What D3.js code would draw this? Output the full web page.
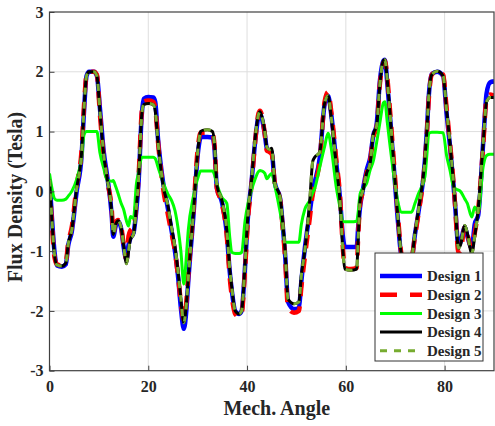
<!DOCTYPE html>
<html>
<head>
<meta charset="utf-8">
<script src="https://cdn.jsdelivr.net/npm/d3@7/dist/d3.min.js"></script>
<style>
  html, body { margin: 0; padding: 0; background: #ffffff; }
  svg { display: block; }
  .tick text { font-family: "Liberation Serif", "Times New Roman", serif; font-weight: bold; font-size: 16px; fill: #262626; }
</style>
</head>
<body>
<svg id="chart" width="495" height="426"></svg>
<script>
// Mechanical angle samples (degrees) shared by all designs
const angles = [
  0, 0.5, 1, 1.5, 2.5, 3.3, 3.8, 4.5, 5.5, 6.5,
  7, 7.5, 8, 9, 9.6, 10.2, 11, 11.6, 12.6, 12.9,
  13.4, 13.9, 14.5, 15, 15.6, 16, 16.4, 17, 17.6, 18,
  18.7, 19.1, 20, 21, 21.4, 22, 23, 24, 24.7, 25.4,
  26, 26.6, 27.2, 27.7, 28.1, 29.1, 30.1, 30.6, 31, 32,
  33, 33.4, 33.9, 34.9, 35.9, 36.5, 36.9, 37.6, 38.4, 38.9,
  39.6, 40.2, 40.9, 41.6, 42.3, 42.6, 43, 43.6, 44, 44.5,
  45, 45.6, 46.7, 47.2, 47.7, 48.3, 49.5, 50.5, 51, 51.7,
  52.7, 53.3, 53.7, 54.7, 55.7, 56.4, 57.1, 58.1, 58.8, 59.4,
  59.8, 61, 62.2, 62.5, 62.9, 63.5, 64.2, 64.9, 65.6, 66.2,
  66.9, 67.6, 67.9, 68.4, 68.9, 69.9, 70.6, 71.3, 72.3, 73.3,
  74, 74.7, 76, 76.4, 76.8, 77.4, 78.5, 79.7, 80.4, 81.1,
  81.7, 82.1, 82.8, 83.2, 84.1, 84.6, 85.5, 86.1, 86.8, 87.8,
  88.5, 89.2, 90
];

// Air-gap flux density (Tesla) per design
const design1 = [
  0.2, -0.45, -1.0, -1.24, -1.26, -1.22, -0.9, -0.68, 0.0, 0.6,
  1.35, 1.93, 2.0, 2.0, 1.93, 1.4, 0.65, 0.3, -0.4, -0.76,
  -0.58, -0.5, -0.62, -0.92, -1.15, -0.9, -0.78, -0.7, -0.3, 0.1,
  1.3, 1.55, 1.58, 1.57, 1.5, 0.85, 0.15, -0.3, -0.65, -1.0,
  -1.4, -1.95, -2.3, -2.0, -1.5, -0.45, 0.68, 0.9, 0.91, 0.91,
  0.9, 0.72, 0.05, -0.18, -0.7, -1.35, -1.65, -2.0, -2.05, -2.0,
  -1.25, -0.4, 0.15, 0.8, 1.25, 1.3, 1.22, 0.95, 0.72, 0.68,
  0.65, 0.15, -0.12, -0.55, -1.05, -1.85, -1.97, -1.95, -1.5, -0.95,
  -0.35, 0.0, 0.15, 0.55, 1.45, 1.6, 1.25, 0.45, -0.1, -0.75,
  -0.93, -0.93, -0.93, -0.6, -0.25, 0.05, 0.35, 0.55, 0.95, 1.1,
  1.85, 2.18, 2.2, 1.8, 1.3, 0.2, -0.55, -1.1, -1.16, -1.14,
  -0.72, -0.35, 0.5, 1.0, 1.6, 1.96, 2.0, 1.93, 1.3, 0.75,
  0.2, -0.2, -0.9, -0.85, -0.6, -0.75, -0.95, -0.55, -0.4, 0.8,
  1.64, 1.82, 1.84
];
const design2 = [
  0.15, -0.55, -1.1, -1.22, -1.24, -1.18, -0.85, -0.6, 0.1, 0.7,
  1.45, 1.95, 2.0, 2.0, 1.95, 1.3, 0.55, 0.2, -0.3, -0.7,
  -0.52, -0.48, -0.58, -0.88, -1.15, -0.75, -0.65, -0.6, -0.2, 0.2,
  1.35, 1.5, 1.52, 1.5, 1.4, 0.8, 0.05, -0.4, -0.7, -1.0,
  -1.4, -1.85, -2.15, -1.85, -1.4, -0.35, 0.78, 0.98, 0.98, 0.98,
  0.96, 0.78, 0.05, -0.2, -0.75, -1.45, -1.75, -2.05, -2.1, -2.05,
  -1.3, -0.45, 0.1, 0.8, 1.3, 1.35, 1.28, 0.95, 0.68, 0.66,
  0.62, 0.15, -0.15, -0.6, -1.1, -1.95, -2.03, -2.0, -1.6, -1.1,
  -0.45, -0.05, 0.1, 0.5, 1.5, 1.66, 1.3, 0.5, -0.05, -0.95,
  -1.28, -1.3, -1.28, -0.75, -0.2, 0.0, 0.3, 0.5, 0.92, 1.05,
  1.8, 2.15, 2.18, 1.9, 1.4, 0.3, -0.45, -1.05, -1.13, -1.1,
  -0.75, -0.38, 0.48, 0.95, 1.55, 1.95, 2.01, 1.95, 1.4, 0.8,
  0.25, -0.2, -1.02, -1.0, -0.6, -0.72, -0.95, -0.7, -0.3, 0.75,
  1.55, 1.62, 1.6
];
const design3 = [
  0.3, 0.05, -0.12, -0.15, -0.15, -0.13, -0.08, 0.0, 0.2, 0.57,
  0.95, 1.0, 1.0, 1.0, 1.0, 0.65, 0.38, 0.2, 0.17, 0.18,
  0.08, -0.04, -0.2, -0.3, -0.5, -0.58, -0.42, -0.45, 0.13, 0.3,
  0.57, 0.57, 0.57, 0.57, 0.55, 0.4, 0.15, -0.05, -0.15, -0.32,
  -0.6, -1.0, -1.55, -1.1, -0.65, -0.1, 0.24, 0.34, 0.34, 0.34,
  0.34, 0.28, 0.12, -0.1, -0.2, -0.77, -1.02, -1.04, -1.04, -1.02,
  -0.49, -0.2, 0.02, 0.2, 0.33, 0.35, 0.34, 0.3, 0.21, 0.26,
  0.3, 0.1, -0.35, -0.6, -0.85, -0.85, -0.85, -0.85, -0.55, -0.3,
  -0.15, -0.02, 0.05, 0.4, 0.75, 0.97, 0.69, 0.05, -0.26, -0.5,
  -0.51, -0.51, -0.5, -0.35, -0.04, 0.05, 0.13, 0.35, 0.52, 0.8,
  1.15, 1.48, 1.5, 1.15, 0.8, 0.15, -0.2, -0.35, -0.35, -0.35,
  -0.2, -0.04, 0.24, 0.6, 0.97, 0.99, 0.99, 0.98, 0.6, 0.35,
  0.1, 0.05, 0.02, 0.0, -0.13, -0.2, -0.43, -0.26, -0.35, 0.41,
  0.6, 0.62, 0.62
];
const design4 = [
  0.2, -0.5, -1.05, -1.23, -1.25, -1.2, -0.88, -0.65, 0.05, 0.65,
  1.4, 1.93, 2.0, 2.0, 1.93, 1.35, 0.6, 0.25, -0.35, -0.72,
  -0.55, -0.49, -0.6, -0.9, -1.21, -1.0, -0.8, -0.72, -0.25, 0.15,
  1.3, 1.45, 1.47, 1.45, 1.35, 0.8, 0.1, -0.25, -0.6, -0.93,
  -1.32, -1.8, -2.2, -1.9, -1.45, -0.4, 0.74, 1.0, 1.02, 1.03,
  1.0, 0.8, 0.1, -0.15, -0.65, -1.3, -1.6, -2.0, -2.05, -2.0,
  -1.21, -0.37, 0.18, 0.85, 1.28, 1.33, 1.25, 1.0, 0.74, 0.7,
  0.72, 0.15, -0.1, -0.5, -0.99, -1.8, -1.88, -1.85, -1.4, -0.99,
  -0.15, 0.5, 0.57, 0.65, 1.47, 1.6, 1.2, 0.41, -0.15, -0.99,
  -1.3, -1.32, -1.3, -0.8, -0.15, 0.02, 0.3, 0.46, 0.97, 1.08,
  1.8, 2.19, 2.2, 1.85, 1.36, 0.24, -0.5, -1.05, -1.12, -1.1,
  -0.7, -0.32, 0.52, 1.0, 1.6, 1.95, 2.01, 1.93, 1.36, 0.8,
  0.24, -0.15, -0.95, -0.9, -0.57, -0.7, -1.04, -0.75, -0.3, 0.8,
  1.5, 1.57, 1.57
];
const design5 = [
  0.2, -0.5, -1.05, -1.23, -1.25, -1.2, -0.88, -0.65, 0.05, 0.65,
  1.4, 1.93, 2.0, 2.0, 1.93, 1.35, 0.6, 0.25, -0.35, -0.72,
  -0.55, -0.49, -0.6, -0.9, -1.21, -1.0, -0.8, -0.72, -0.25, 0.15,
  1.3, 1.45, 1.47, 1.45, 1.35, 0.8, 0.1, -0.25, -0.6, -0.93,
  -1.32, -1.8, -2.2, -1.9, -1.45, -0.4, 0.74, 1.0, 1.02, 1.03,
  1.0, 0.8, 0.1, -0.15, -0.65, -1.3, -1.6, -2.0, -2.05, -2.0,
  -1.21, -0.37, 0.18, 0.85, 1.28, 1.33, 1.25, 1.0, 0.74, 0.7,
  0.72, 0.15, -0.1, -0.5, -0.99, -1.8, -1.88, -1.85, -1.4, -0.99,
  -0.15, 0.5, 0.57, 0.65, 1.47, 1.6, 1.2, 0.41, -0.15, -0.99,
  -1.3, -1.32, -1.3, -0.8, -0.15, 0.02, 0.3, 0.46, 0.97, 1.08,
  1.8, 2.19, 2.2, 1.85, 1.36, 0.24, -0.5, -1.05, -1.12, -1.1,
  -0.7, -0.32, 0.52, 1.0, 1.6, 1.95, 2.01, 1.93, 1.36, 0.8,
  0.24, -0.15, -0.95, -0.9, -0.57, -0.7, -1.04, -0.75, -0.3, 0.8,
  1.5, 1.57, 1.57
];

const seriesNames = ["Design 1", "Design 2", "Design 3", "Design 4", "Design 5"];
const xTicks = [0, 20, 40, 60, 80];
const yTicks = [-3, -2, -1, 0, 1, 2, 3];

// Line styling for each design
const styles = [
  { color: "#0000ff", width: 4.5, dash: null },
  { color: "#ff0000", width: 4.5, dash: "14,10" },
  { color: "#00ff00", width: 3, dash: null },
  { color: "#000000", width: 3, dash: null },
  { color: "#77ac30", width: 3, dash: "7,7" }
];

const seriesData = [design1, design2, design3, design4, design5];

const svg = d3.select("#chart");
const plot = { left: 49.5, right: 494, top: 12, bottom: 370.7 };

const x = d3.scaleLinear().domain([0, 90]).range([plot.left, plot.right]);
const y = d3.scaleLinear().domain([-3, 3]).range([plot.bottom, plot.top]);

// Grid
const grid = svg.append("g").attr("stroke", "#dedede").attr("stroke-width", 1);
grid.selectAll(".gx").data(xTicks.filter(d => d > 0)).enter().append("line")
  .attr("x1", d => x(d)).attr("x2", d => x(d))
  .attr("y1", plot.top).attr("y2", plot.bottom);
grid.selectAll(".gy").data(yTicks.filter(d => d > -3 && d < 3)).enter().append("line")
  .attr("x1", plot.left).attr("x2", plot.right)
  .attr("y1", d => y(d)).attr("y2", d => y(d));

// Curves
svg.append("defs").append("clipPath").attr("id", "clip")
  .append("rect").attr("x", plot.left).attr("y", plot.top)
  .attr("width", plot.right - plot.left).attr("height", plot.bottom - plot.top);

const line = d3.line()
  .x((d, i) => x(angles[i]))
  .y(d => y(d))
  .curve(d3.curveMonotoneX);

const curves = svg.append("g").attr("clip-path", "url(#clip)");
seriesData.forEach((vals, k) => {
  const s = styles[k];
  curves.append("path")
    .attr("d", line(vals))
    .attr("fill", "none")
    .attr("stroke", s.color)
    .attr("stroke-width", s.width)
    .attr("stroke-linejoin", "round")
    .attr("stroke-dasharray", s.dash);
});

// Axes
const fmt = d => String(d);
const xAxis = svg.append("g").attr("transform", `translate(0,${plot.bottom})`)
  .call(d3.axisBottom(x).tickValues(xTicks).tickFormat(fmt).tickSizeInner(-5).tickSizeOuter(0).tickPadding(10));
const yAxis = svg.append("g").attr("transform", `translate(${plot.left},0)`)
  .call(d3.axisLeft(y).tickValues(yTicks).tickFormat(fmt).tickSizeInner(-5).tickSizeOuter(0).tickPadding(6));
[xAxis, yAxis].forEach(a => {
  a.selectAll("path").remove();
  a.selectAll("line").attr("stroke", "#404040");
});

// Frame
svg.append("rect")
  .attr("x", plot.left).attr("y", plot.top)
  .attr("width", plot.right - plot.left).attr("height", plot.bottom - plot.top)
  .attr("fill", "none").attr("stroke", "#404040").attr("stroke-width", 1.2);

// Axis titles
const titleFont = "'Liberation Serif', 'Times New Roman', serif";
svg.append("text")
  .attr("x", (plot.left + plot.right) / 2 + 5).attr("y", 415)
  .attr("text-anchor", "middle")
  .attr("font-family", titleFont).attr("font-weight", "bold").attr("font-size", 20)
  .attr("fill", "#262626")
  .text("Mech. Angle");
svg.append("text")
  .attr("transform", "translate(22,197) rotate(-90)")
  .attr("text-anchor", "middle")
  .attr("font-family", titleFont).attr("font-weight", "bold").attr("font-size", 20)
  .attr("fill", "#262626")
  .text("Flux Density (Tesla)");

// Legend
const legend = svg.append("g");
legend.append("rect")
  .attr("x", 375).attr("y", 253).attr("width", 108).attr("height", 108)
  .attr("fill", "#ffffff").attr("stroke", "#333333").attr("stroke-width", 1);
seriesNames.forEach((name, k) => {
  const s = styles[k];
  const cy = 276 + k * 18.7;
  legend.append("line")
    .attr("x1", 380).attr("x2", 422).attr("y1", cy).attr("y2", cy)
    .attr("stroke", s.color).attr("stroke-width", s.width)
    .attr("stroke-dasharray", k === 1 ? "17,13" : s.dash);
  legend.append("text")
    .attr("x", 427).attr("y", cy).attr("dy", "0.35em")
    .attr("font-family", titleFont).attr("font-weight", "bold").attr("font-size", 15)
    .attr("fill", "#262626")
    .text(name);
});
</script>
</body>
</html>
